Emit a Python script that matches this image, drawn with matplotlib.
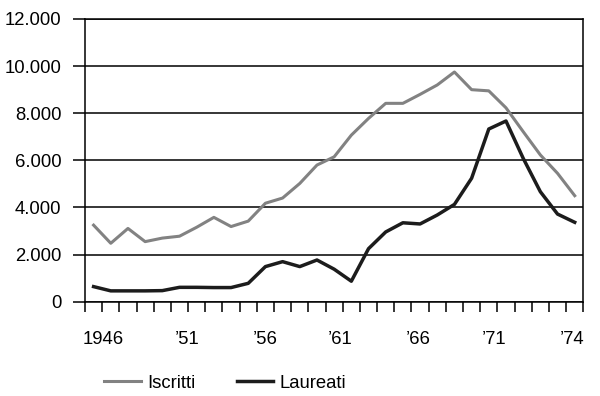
import numpy as np
import matplotlib
matplotlib.use("Agg")
import matplotlib.pyplot as plt
from matplotlib.ticker import FixedLocator, FuncFormatter

# Data: students enrolled (Iscritti) and graduates (Laureati), 1946-1974
years = list(range(1946, 1975))
iscritti = [3250, 2480, 3110, 2550, 2700, 2780, 3160, 3580, 3190, 3420,
            4180, 4400, 5020, 5800, 6150, 7070, 7780, 8420, 8420, 8800,
            9200, 9750, 9000, 8950, 8230, 7220, 6230, 5450, 4500]
laureati = [640, 460, 460, 460, 470, 610, 610, 600, 600, 780,
            1490, 1700, 1490, 1770, 1380, 870, 2250, 2960, 3350, 3300,
            3680, 4130, 5240, 7330, 7670, 6090, 4670, 3720, 3370]

tick_labels = ["1946", "\u201951", "\u201956", "\u201961", "\u201966", "\u201971", "\u201974"]
# where the labels sit along the year axis (as printed in the source)
label_pos = [1946.55, 1951.44, 1955.98, 1960.34, 1964.88, 1969.3, 1973.85]
y_ticks = [0, 2000, 4000, 6000, 8000, 10000, 12000]

plt.rcParams['font.family'] = ['Liberation Sans', 'DejaVu Sans']

fig = plt.figure(figsize=(6, 3.96), dpi=100)
ax = fig.add_axes([85/600, 1 - 301.7/396, (583.3 - 85)/600, (301.7 - 19)/396])

gray = '#828282'
dark = '#1c1c1c'

ax.plot(years, iscritti, color=gray, lw=2.2, label='Iscritti', zorder=3)
ax.plot(years, laureati, color=dark, lw=2.5, label='Laureati', zorder=4)

ax.set_xlim(years[0] - 0.5, years[-1] + 0.5)
ax.set_ylim(0, 12000)

# horizontal gridlines
ax.set_yticks(y_ticks)
ax.yaxis.set_major_formatter(FuncFormatter(lambda v, p: f"{int(v):,}".replace(",", ".")))
ax.grid(axis='y', color='black', lw=1.1, zorder=1)
ax.tick_params(axis='y', direction='out', length=9, width=1.1, pad=8, labelsize=13.3)

# category boundary ticks + free-standing labels
ax.xaxis.set_minor_locator(FixedLocator(np.arange(years[0] - 0.5, years[-1] + 1, 1.0)))
ax.xaxis.set_major_locator(FixedLocator(label_pos))
ax.set_xticklabels(tick_labels)
ax.tick_params(axis='x', which='minor', direction='out', length=7, width=1.1)
ax.tick_params(axis='x', which='major', length=0, pad=21, labelsize=13.3)

for s in ax.spines.values():
    s.set_color('black')
    s.set_linewidth(1.1)

fig.legend(loc='center left', bbox_to_anchor=(95/600, 1 - 383/396), ncol=2,
           frameon=False, fontsize=13.3, handlelength=2.0, handletextpad=0.35,
           columnspacing=2.2, borderpad=0)

fig.savefig("out.png", dpi=100)
